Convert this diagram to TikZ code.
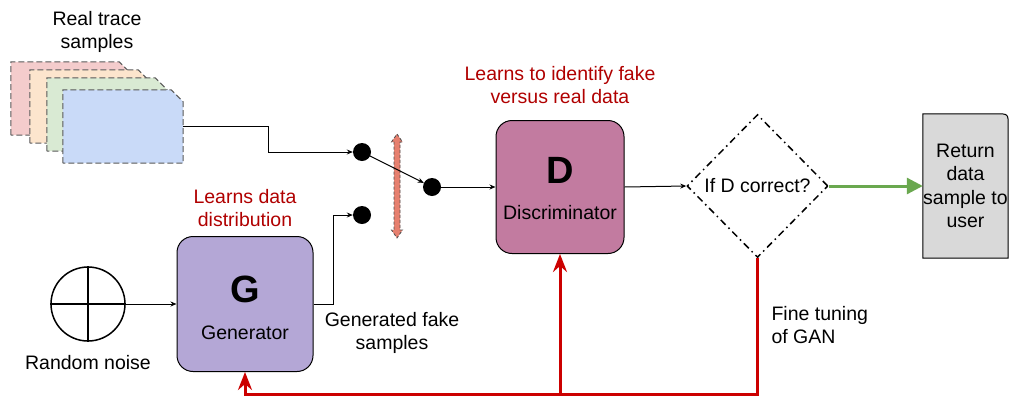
\documentclass[tikz,border=0pt]{standalone}
\usepackage{fontspec}
\setmainfont{Liberation Sans}
\usetikzlibrary{shapes.geometric,arrows.meta,calc}
\definecolor{cardred}{HTML}{F4CCCC}
\definecolor{cardorange}{HTML}{FCE5CD}
\definecolor{cardgreen}{HTML}{D9EAD3}
\definecolor{cardblue}{HTML}{C9DAF8}
\definecolor{discpink}{HTML}{C27BA0}
\definecolor{genlilac}{HTML}{B4A7D6}
\definecolor{retgray}{HTML}{D9D9D9}
\definecolor{okgreen}{HTML}{6AA84F}
\definecolor{fbred}{HTML}{CC0000}
\definecolor{notered}{HTML}{B00000}
\definecolor{barsalmon}{HTML}{E6806F}
\tikzset{
  card/.style={rectangle, minimum width=120pt, minimum height=73pt, inner sep=0pt},
  cardline/.style={draw=black!65, dash pattern=on 6pt off 3pt, line width=1pt},
  block/.style={rectangle, rounded corners=16pt, draw=black, line width=1pt, inner sep=0pt},
  letter/.style={font=\fontsize{38}{40}\selectfont\bfseries},
  txt/.style={align=center},
  note/.style={align=center, text=notered},
  dot/.style={circle, fill=black, inner sep=0pt, minimum size=18pt},
  flow/.style={draw=black, line width=1pt, -{Stealth[length=6pt,width=5pt]}},
  fb/.style={draw=fbred, line width=3pt, -{Stealth[length=18pt,width=14pt,inset=6pt]}},
  okarrow/.style={draw=okgreen, line width=3pt, -{Triangle[length=16pt,width=16pt]}},
}
\begin{document}
\begin{tikzpicture}[x=1pt,y=1pt,yscale=-1,xscale=1,font=\fontsize{19.5}{23.5}\selectfont]
\useasboundingbox (0,0) rectangle (1009,397);

%Shape: stacked trace cards
\foreach \cx/\cy/\col/\nm in {71/98.5/cardred/card1, 90/106.5/cardorange/card2,
    107/114.5/cardgreen/card3, 123/126.5/cardblue/card4} {
  \node[card] (\nm) at (\cx,\cy) {};
  \draw[cardline, fill=\col] (\nm.south west) -- (\nm.north west)
    -- ($(\nm.north east)+(-12,0)$) -- ($(\nm.north east)+(0,12)$)
    -- (\nm.south east) -- cycle;
}
% Text Node
\node[txt] (realtext) at (97,32) {Real trace\\samples};

%Shape: switch contacts
\node[dot] (realdot) at (362,152) {};
\node[dot] (fakedot) at (362,215) {};
\node[dot] (outdot) at (432,187) {};
%Shape: switch bar
\draw[draw=black!70, dash pattern=on 3pt off 2pt, line width=0.8pt, fill=barsalmon]
  (397,134) -- (402.5,142) -- (400,142) -- (400,230) -- (402.5,230) -- (397,238)
  -- (391.5,230) -- (394,230) -- (394,142) -- (391.5,142) -- cycle;

%Shape: Discriminator
\node[block, fill=discpink, minimum width=128pt, minimum height=133pt] (disc) at (560,187) {};
\node[letter] (dletter) at ($(disc.center)+(0,-17)$) {D};
\node[txt] (dtext) at ($(disc.center)+(0,26)$) {Discriminator};
% Text Node
\node[note] (discnote) at (560,85) {Learns to identify fake\\versus real data};

%Shape: Generator
\node[block, fill=genlilac, minimum width=136pt, minimum height=135pt] (gen) at (245,304) {};
\node[letter] (gletter) at ($(gen.center)+(0,-15)$) {G};
\node[txt] (gtext) at ($(gen.center)+(0,29)$) {Generator};
% Text Node
\node[note] (gennote) at (245,208) {Learns data\\distribution};

%Shape: noise source
\node[circle, draw=black, line width=1.5pt, minimum size=74pt, inner sep=0pt] (noise) at (88,304) {};
\draw[line width=1.5pt] (noise.north) -- (noise.south) (noise.west) -- (noise.east);
\node[txt] (noisetext) at (88,363) {Random noise};

% Text Node
\node[txt] (faketext) at (392,333) {Generated fake\\samples};

%Shape: decision
\node[diamond, draw=black, line width=1.5pt, dash pattern=on 7pt off 4pt on 1.5pt off 4pt,
  minimum width=141pt, minimum height=143pt, inner sep=0pt] (decide) at (757.5,186) {If D correct?};

%Shape: Return box
\node[rectangle, minimum width=85pt, minimum height=144pt, inner sep=0pt] (ret) at (965.5,186) {};
\draw[line width=1pt, fill=retgray] (ret.south west) -- (ret.north west)
  -- ($(ret.north east)+(-12,0)$) .. controls (ret.north east) .. ($(ret.north east)+(0,12)$)
  -- (ret.south east) -- cycle;
\node[txt] (rettext) at (ret.center) {Return\\data\\sample to\\user};

% Text Node
\node[anchor=west, align=left] (finetext) at (768,325) {Fine tuning\\of GAN};

%Straight Lines
\draw[flow] (card4.east) -- ++(85,0) |- (realdot);
\draw[flow] (gen.east) -- ++(20,0) |- (fakedot);
\draw[flow] (noise.east) -- (gen.west);
\draw[flow, shorten <=-2pt] (realdot) -- (outdot);
\draw[flow] (outdot) -- (disc.west);
\draw[flow] (disc.east) -- (decide.west);
\draw[okarrow] (decide.east) -- (ret.west);

%Feedback lines
\coordinate (fbbase) at (560,394);
\draw[fb] (decide.south) |- (fbbase) -| (gen.south);
\draw[fb] (fbbase) -- (disc.south);

\end{tikzpicture}
\end{document}
